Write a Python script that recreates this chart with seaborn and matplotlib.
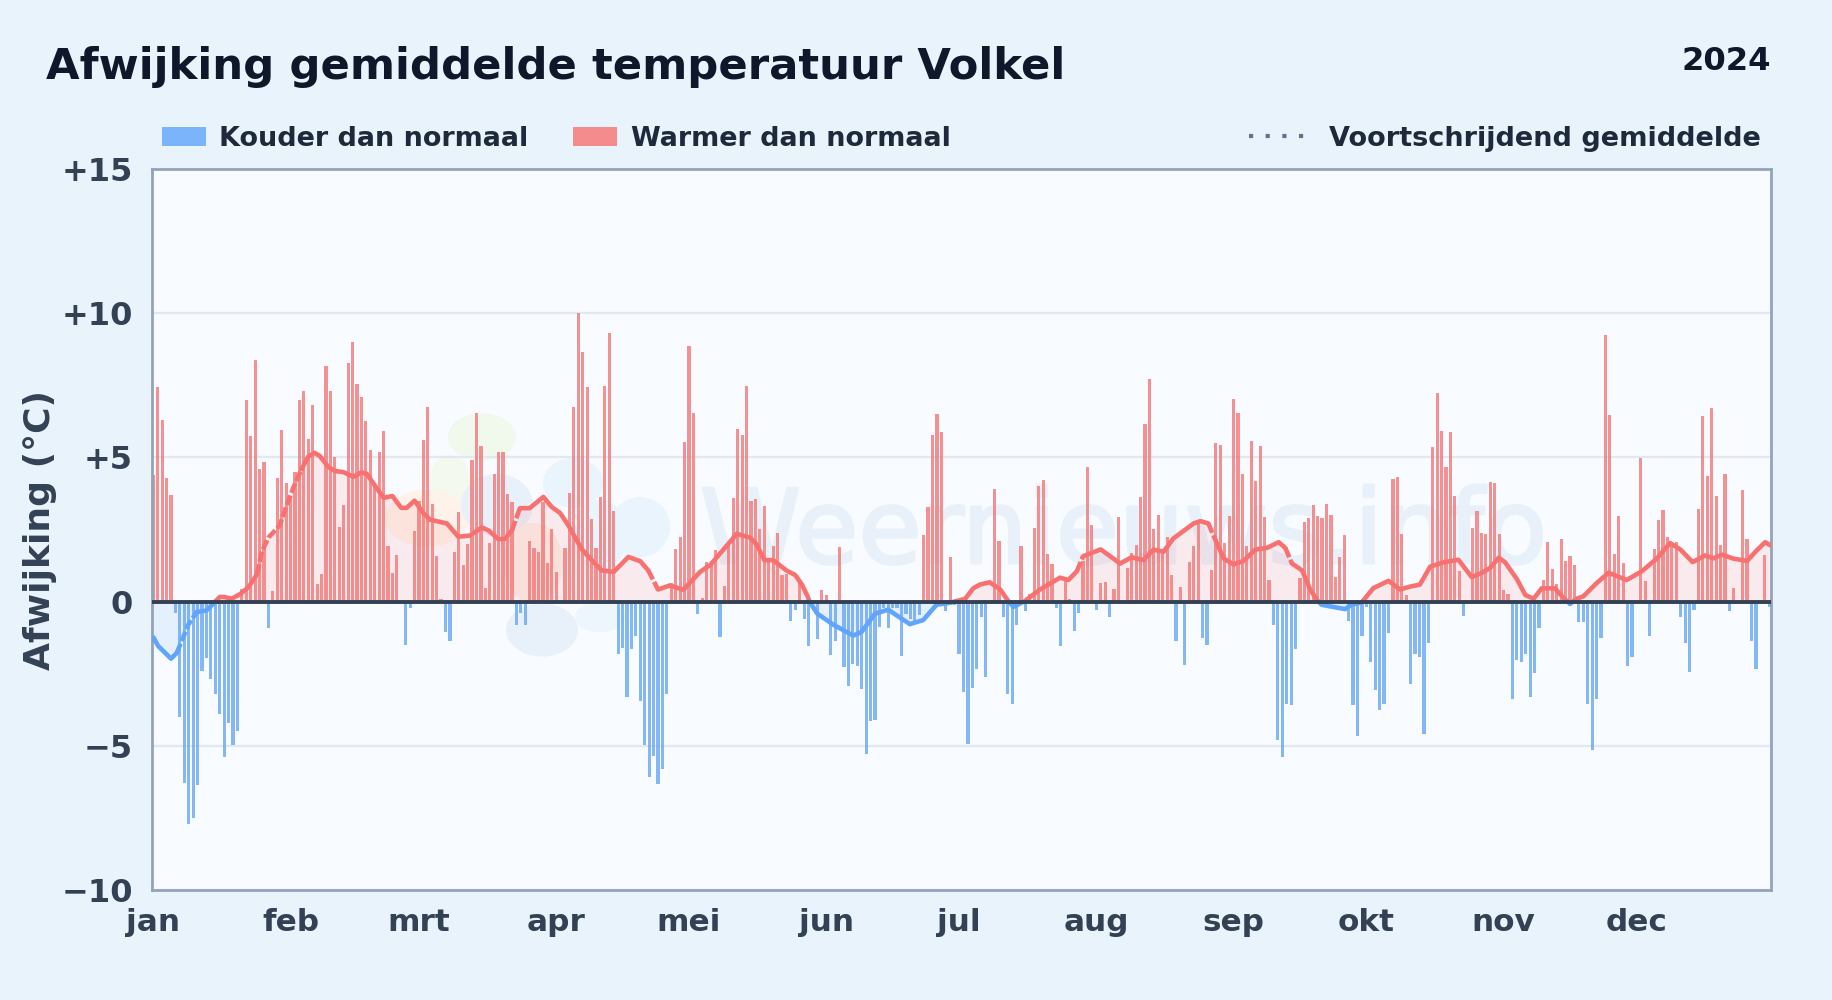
"""Afwijking gemiddelde temperatuur Volkel, 2024."""
import numpy as np
import pandas as pd
import matplotlib
matplotlib.use('Agg')
import matplotlib.pyplot as plt
import matplotlib.patheffects as pe
import seaborn as sns
from matplotlib.lines import Line2D
from matplotlib.patches import Ellipse, Patch

# ----- data -----
month_labels = ['jan', 'feb', 'mrt', 'apr', 'mei', 'jun', 'jul', 'aug', 'sep', 'okt', 'nov', 'dec']
month_starts = [0, 31, 60, 91, 121, 152, 182, 213, 244, 274, 305, 335]
y_ticks = [-10, -5, 0, 5, 10, 15]
y_labels = ['\u221210', '\u22125', '0', '+5', '+10', '+15']

afwijking = [
    4.4, 7.43, 6.3, 4.28, 3.7, -0.4, -4.0, -6.3, -7.7, -7.5,
    -6.35, -2.4, -1.95, -2.7, -3.2, -3.9, -5.4, -4.2, -4.97, -4.5,
    0.45, 7.0, 5.73, 8.37, 4.6, 4.85, -0.93, 0.38, 4.3, 5.95,
    4.1, 3.6, 4.5, 7.0, 7.3, 5.64, 6.8, 0.62, 0.96, 8.17,
    7.3, 5.0, 2.6, 3.35, 8.27, 9.0, 7.56, 7.1, 6.26, 5.26,
    4.0, 5.2, 5.9, 1.93, 1.0, 1.62, 0, -1.5, -0.23, 2.45,
    3.5, 5.6, 6.75, 3.38, 1.58, 0.1, -1.06, -1.37, 1.72, 3.1,
    1.27, 2.0, 4.9, 6.54, 5.4, 0.47, 2.03, 4.43, 5.2, 5.18,
    3.73, 3.45, -0.82, -0.4, -0.8, 2.1, 1.86, 1.72, 3.45, 1.34,
    2.5, 1.03, 0, 1.86, 3.76, 6.75, 10.0, 8.64, 7.43, 2.86,
    1.86, 3.63, 7.47, 9.3, 3.14, -1.83, -1.62, -3.32, -1.65, -1.18,
    -3.45, -4.97, -6.08, -5.36, -6.32, -5.82, -3.19, 0.64, 1.83, 2.24,
    5.52, 8.86, 6.54, -0.44, 0.13, 1.37, 1.4, 1.8, -1.23, 0.54,
    2.06, 3.6, 5.98, 5.77, 7.47, 3.48, 3.56, 2.52, 3.32, 1.49,
    1.93, 2.39, 0.92, 0.95, -0.69, -0.28, 0.67, -0.62, -1.55, 0,
    -1.31, 0.41, 0.23, -1.86, -1.37, 1.9, -2.27, -2.91, -2.16, -2.24,
    -3.04, -5.29, -4.15, -4.1, -0.87, -0.23, -0.93, -0.23, -0.23, -1.9,
    -0.44, -0.59, -0.69, -0.47, 2.3, 3.28, 5.77, 6.5, 5.88, -0.31,
    1.55, -0.13, -1.8, -3.14, -4.95, -3.0, -2.35, -0.54, -2.63, 0,
    3.9, 2.1, -0.54, -3.19, -3.56, -0.82, 1.93, -0.34, 0.26, 2.55,
    4.0, 4.22, 1.65, 1.31, -0.23, -1.55, 0.7, 0.1, -1.03, -0.41,
    1.4, 4.66, 2.66, -0.28, 0.64, 0.67, -0.54, 0.44, 2.94, 0,
    1.16, 1.68, 1.96, 3.63, 6.16, 7.71, 2.52, 3.0, 1.7, 2.25,
    0.93, -1.37, 0.51, -2.2, 1.37, 1.93, 2.7, -1.27, -1.52, 1.09,
    5.49, 5.42, 2.03, 2.97, 7.03, 6.54, 4.43, 1.93, 5.57, 4.18,
    5.39, 2.94, 0.75, -0.8, -4.8, -5.39, -3.56, -3.59, -1.65, 0.82,
    2.76, 2.89, 3.35, 2.97, 2.89, 3.38, 3.0, 0.85, 1.55, 2.3,
    -0.67, -3.59, -4.67, -1.18, -0.18, -2.11, -3.07, -3.77, -3.56, -1.09,
    4.25, 4.31, 2.35, 0.23, -2.86, -1.83, -1.93, -4.59, -1.45, 5.36,
    7.25, 5.92, 4.66, 5.88, 3.66, 1.06, -0.51, 0, 2.55, 3.14,
    2.39, 2.35, 4.15, 4.12, 2.35, 0.41, 0.26, -3.38, -2.04, -2.11,
    -1.83, -3.32, -2.48, -0.93, 0.75, 2.06, 1.13, 0.6, 2.17, 1.4,
    1.58, 1.27, -0.72, -0.72, -3.56, -5.15, -3.38, -1.27, 9.26, 6.47,
    1.65, 2.97, 1.34, -2.24, -1.93, 0, 4.98, 0.72, -1.21, 1.83,
    2.83, 3.17, 2.24, 2.03, 2.06, -0.54, -1.45, -2.45, -0.28, 3.2,
    6.44, 4.35, 6.72, 3.66, 1.96, 4.43, -0.34, 0.47, 0, 3.87,
    2.17, -1.37, -2.35, 0, 1.62, -0.18,
]

# rolling mean, read at the bends of the curve
gem_dagen = [
    0, 1.1, 4, 5.3, 6.4, 7.9, 9.8, 12, 14, 15, 16, 17.7, 19.6, 21.5, 23.4, 24.5, 26, 28.5,
    30, 31.6, 33.5, 35, 36.4, 37.6, 39.5, 41, 42.9, 45.2, 47, 48.2, 49.7, 52, 54, 56, 57.2,
    59, 61, 62.5, 66.3, 68.9, 71.5, 74.2, 75.7, 77.9, 79.4, 81, 82.8, 85, 88.1, 90, 91.9,
    93.8, 96.8, 99, 101.3, 104, 107.3, 110, 111.8, 114, 116.7, 119.7, 121.6, 123.5, 125.8,
    128.8, 131.8, 134.8, 136.3, 138, 140, 143, 145, 146.5, 147.8, 148.2, 150, 153.6, 158.1,
    160, 163, 166, 168.7, 170.9, 173.9, 176.9, 180.3, 181, 183.4, 185.2, 186.7, 188.9, 191.3,
    193.2, 194.3, 196.2, 196.8, 197.3, 200.3, 204.8, 206.7, 208.6, 210, 214, 218.4, 221,
    223.6, 225.9, 228.2, 230.4, 235, 236.5, 238.3, 239.9, 241.8, 244, 246.2, 249, 251.5,
    254.2, 255.7, 257.2, 259.5, 261.3, 262.8, 263.2, 263.9, 269.2, 270.7, 272.9, 273.1,
    275.6, 279, 281.6, 283.9, 286.1, 288.4, 291.4, 294.8, 297.8, 300.1, 301.9, 303.9, 305.3,
    308, 309.9, 311.8, 313.6, 316.6, 318.9, 319.5, 320, 320.7, 321.5, 323, 326, 328.7, 332.8,
    336.2, 339.6, 342.6, 344.9, 347.7, 350.5, 352.4, 354.3, 356.9, 360, 362.2, 364.1, 365.4,
]
gem_waarden = [
    -1.24, -1.54, -1.98, -1.78, -1.37, -0.8, -0.36, -0.31, 0, 0.16, 0.16, 0.1, 0.26, 0.5, 0.95, 1.73, 2.22, 2.63,
    3.28, 3.94, 4.6, 5.03, 5.16, 5.05, 4.67, 4.53, 4.49, 4.33, 4.48, 4.43, 4.1, 3.6, 3.66, 3.25, 3.25,
    3.5, 3.07, 2.84, 2.71, 2.25, 2.29, 2.57, 2.47, 2.17, 2.17, 2.47, 3.24, 3.24, 3.63, 3.28, 3.07,
    2.63, 1.81, 1.44, 1.08, 1.03, 1.55, 1.4, 1.08, 0.42, 0.56, 0.41, 0.72, 1.03, 1.27,
    1.81, 2.35, 2.22, 1.98, 1.44, 1.44, 1.08, 0.92, 0.59, 0.18, 0, -0.42, -0.8, -1.18,
    -1.05, -0.42, -0.28, -0.56, -0.78, -0.64, -0.11, -0.03, 0, 0.1, 0.46, 0.59, 0.67, 0.42,
    0, -0.18, -0.03, 0, 0.07, 0.42, 0.83, 0.75, 1.05, 1.57, 1.81, 1.32, 1.54,
    1.44, 1.8, 1.73, 2.19, 2.71, 2.79, 2.71, 2.14, 1.49, 1.29, 1.41, 1.81, 1.86,
    2.06, 1.86, 1.32, 1.08, 0.42, 0.07, 0, -0.11, -0.26, -0.1, -0.03, 0,
    0.47, 0.72, 0.42, 0.52, 0.59, 1.21, 1.36, 1.45, 0.85, 1.0, 1.16, 1.52, 1.37,
    0.78, 0.23, 0.1, 0.46, 0.46, 0.07, 0, -0.08, 0, 0.1, 0.18, 0.64, 1.0, 0.75,
    1.05, 1.49, 2.03, 1.81, 1.37, 1.6, 1.5, 1.63, 1.49, 1.41, 1.78, 2.06, 1.94,
]
# stretches of the curve that are drawn broken in the original
gebroken = [(5.3, 9.8), (23.4, 33.5), (81, 82.8), (111.8, 114), (208.6, 210), (238.3, 239.9), (255.7, 257.2)]

# ----- colours -----
KOUD = '#60a5fa'
WARM = '#f87171'
BG = '#e9f3fc'
PANEL = '#f8fbff'
SPINE = '#94a3b8'
INK = '#0f172a'
TICK = '#334155'
LEG = '#1e293b'

sns.set_theme(style='white')
plt.rcParams['font.family'] = ['DejaVu Sans']

W, H = 1832, 1000
fig = plt.figure(figsize=(W / 100, H / 100), dpi=100, facecolor=BG)
ax = fig.add_axes([152 / W, 1 - 890 / H, 1619 / W, 721 / H], facecolor=PANEL)

# ----- faint watermark (logo blobs in pixels, then the name) -----
logo = [(482, 437, 68, 47, '#f1f8ec'), (450, 480, 40, 50, '#f3f9ef'), (427, 518, 85, 57, '#fdf3ea'),
        (497, 505, 72, 62, '#e8f0f9'), (573, 483, 60, 50, '#e9f4fd'), (640, 527, 60, 60, '#e9f4fd'),
        (600, 535, 55, 70, '#e9f4fd'), (600, 617, 50, 30, '#edf6fd'), (542, 630, 72, 53, '#e8f0f9'),
        (533, 563, 60, 80, '#fbf0ea')]
for cx, cy, bx, hy, kl in logo:
    ax.add_patch(Ellipse((cx / W, 1 - cy / H), bx / W, hy / H, transform=fig.transFigure, color=kl, lw=0, zorder=0))
ax.text(0.60, 0.4535, 'Weernieuws.info', transform=ax.transAxes, ha='center', va='baseline',
        fontsize=74, color='#e8f1fa', zorder=0.5,
        path_effects=[pe.withStroke(linewidth=2, foreground='#e8f1fa')])

# ----- bars -----
df = pd.DataFrame({'dag': np.arange(len(afwijking)), 'afwijking': afwijking})
df['soort'] = np.where(df['afwijking'] < 0, 'koud', 'warm')
sns.barplot(data=df, x='dag', y='afwijking', hue='soort', palette={'koud': KOUD, 'warm': WARM},
            native_scale=True, dodge=False, width=0.72, errorbar=None, saturation=0.92,
            alpha=0.8, linewidth=0, legend=False, ax=ax, zorder=2)

# ----- rolling mean -----
gem_d = np.array(gem_dagen)
gem_w = np.array(gem_waarden)
ax.fill_between(gem_d, 0, np.clip(gem_w, 0, None), color=WARM, alpha=0.12, lw=0, zorder=1.5)
ax.fill_between(gem_d, 0, np.clip(gem_w, None, 0), color=KOUD, alpha=0.12, lw=0, zorder=1.5)

# split the curve on sign and on broken stretches
mid_d = (gem_d[:-1] + gem_d[1:]) / 2
mid_w = (gem_w[:-1] + gem_w[1:]) / 2
is_warm = mid_w >= 0
is_gebroken = np.array([any(a <= m <= b for a, b in gebroken) for m in mid_d])
start = 0
for i in range(1, len(mid_d) + 1):
    if i < len(mid_d) and is_warm[i] == is_warm[start] and is_gebroken[i] == is_gebroken[start]:
        continue
    stijl = (0, (2.2, 0.6)) if is_gebroken[start] else '-'
    sns.lineplot(x=gem_d[start:i + 1], y=gem_w[start:i + 1], color=WARM if is_warm[start] else KOUD,
                 linewidth=3.3, linestyle=stijl, ax=ax, zorder=4, estimator=None, sort=False)
    start = i

ax.axhline(0, color=TICK, lw=2.8, zorder=5)

# ----- axes -----
ax.set_xlim(-0.3, 365.4)
ax.set_ylim(-10, 15)
ax.set_xticks(month_starts)
ax.set_xticklabels(month_labels, fontsize=22.4, fontweight='bold', color=TICK)
ax.set_yticks(y_ticks)
ax.set_yticklabels(y_labels, fontsize=23, fontweight='bold', color=TICK)
ax.tick_params(axis='x', length=0, pad=13)
ax.tick_params(axis='y', length=0, pad=13.7)
ax.set_xlabel('')
ax.set_ylabel('')
ax.grid(axis='y', color='#e2e8f0', lw=1.6)
ax.set_axisbelow(True)
for s in ax.spines.values():
    s.set_visible(True)
    s.set_color(SPINE)
    s.set_linewidth(2)

fig.text(40 / W, 1 - 530 / H, 'Afwijking (\u00b0C)', rotation=90, ha='center', va='center',
         fontsize=26, fontweight='bold', color=TICK)
fig.text(46 / W, 1 - 67 / H, 'Afwijking gemiddelde temperatuur Volkel', ha='left', va='center',
         fontsize=31.2, fontweight='bold', color=INK)
fig.text(1771 / W, 1 - 62 / H, '2024', ha='right', va='center', fontsize=23.2, fontweight='bold', color=INK)

# ----- legends -----
handles = [Patch(facecolor=KOUD, alpha=0.8, lw=0, label='Kouder dan normaal'),
           Patch(facecolor=WARM, alpha=0.8, lw=0, label='Warmer dan normaal')]
fig.legend(handles=handles, loc='center left', bbox_to_anchor=(162 / W, 1 - 139 / H), ncol=2, frameon=False,
           borderpad=0, borderaxespad=0, handlelength=1.62, handleheight=0.7, handletextpad=0.5, columnspacing=1.66,
           prop={'size': 19.45, 'weight': 'bold'}, labelcolor=LEG)
fig.legend(handles=[Line2D([], [], color='#64748b', lw=3, linestyle=(0, (1, 3)), label='Voortschrijdend gemiddelde')],
           loc='center right', bbox_to_anchor=(1761 / W, 1 - 139 / H), frameon=False,
           borderpad=0, borderaxespad=0, handlelength=2.05, handletextpad=0.9,
           prop={'size': 19.55, 'weight': 'bold'}, labelcolor=LEG)

fig.savefig('out.png', dpi=100, facecolor=BG)
